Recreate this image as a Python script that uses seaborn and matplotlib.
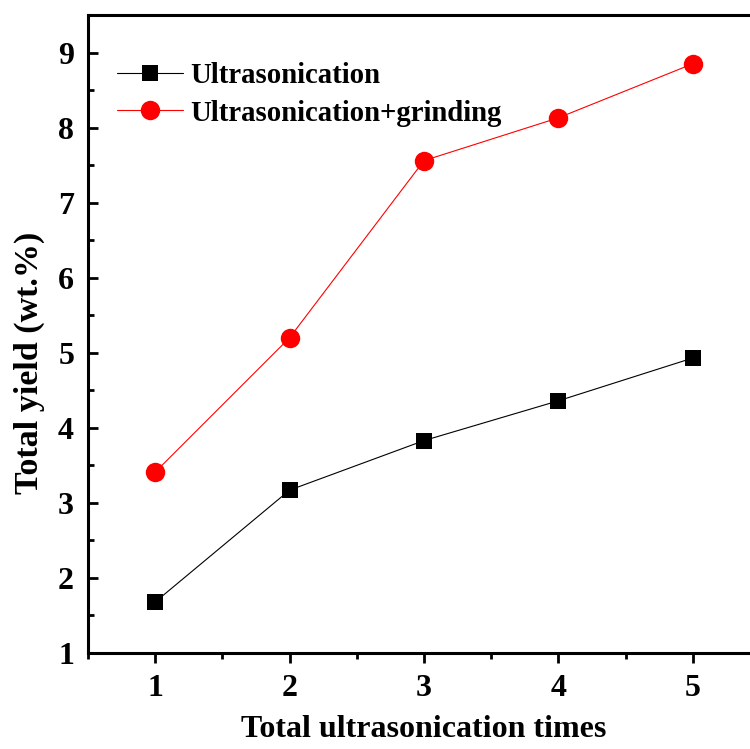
import matplotlib
matplotlib.use("Agg")
import matplotlib.pyplot as plt
import seaborn as sns
import pandas as pd
from matplotlib.ticker import MultipleLocator

times = [1, 2, 3, 4, 5]
ultrasonication = [1.68, 3.17, 3.83, 4.36, 4.93]
ultra_grinding = [3.41, 5.20, 7.56, 8.13, 8.85]
series_names = ["Ultrasonication", "Ultrasonication+grinding"]

sns.set_theme(style="white")
plt.rcParams['font.family'] = ['Liberation Serif', 'DejaVu Serif']
plt.rcParams['font.weight'] = 'bold'
plt.rcParams['text.color'] = 'black'
plt.rcParams['axes.labelcolor'] = 'black'
plt.rcParams['xtick.color'] = 'black'
plt.rcParams['ytick.color'] = 'black'

df1 = pd.DataFrame({"times": times, "yield": ultrasonication})
df2 = pd.DataFrame({"times": times, "yield": ultra_grinding})

fig = plt.figure(figsize=(7.5, 7.49), dpi=100)
ax = fig.add_axes([88/750, 96/749, 672/750, 638/749])

sns.lineplot(data=df1, x="times", y="yield", ax=ax, color="black", marker="s",
             markersize=11.5, markeredgewidth=0, linewidth=0.8, label=series_names[0])
sns.lineplot(data=df2, x="times", y="yield", ax=ax, color="#ff0000", marker="o",
             markersize=14, markeredgewidth=0, linewidth=0.8, label=series_names[1])

ax.set_xlim(0.5, 5.5)
ax.set_ylim(1, 9.5)
ax.xaxis.set_major_locator(MultipleLocator(1))
ax.xaxis.set_minor_locator(MultipleLocator(0.5))
ax.yaxis.set_major_locator(MultipleLocator(1))
ax.yaxis.set_minor_locator(MultipleLocator(0.5))

for s in ax.spines.values():
    s.set_linewidth(2.2)
    s.set_color("black")

ax.tick_params(axis='x', which='major', direction='out', length=7, width=2, pad=8,
               labelsize=23, bottom=True, colors='black')
ax.tick_params(axis='x', which='minor', direction='out', length=4, width=2, bottom=True,
               colors='black')
ax.tick_params(axis='y', which='major', direction='in', length=7, width=2, pad=10,
               labelsize=23, left=True, colors='black')
ax.tick_params(axis='y', which='minor', direction='in', length=4, width=2, left=True,
               colors='black')
for lbl in ax.get_xticklabels() + ax.get_yticklabels():
    lbl.set_fontweight('bold')
    lbl.set_color('black')

ax.set_xlabel("Total ultrasonication times", fontsize=23, fontweight='bold', color='black')
ax.set_ylabel("Total yield (wt.%)", fontsize=24.5, fontweight='bold', color='black')
ax.xaxis.set_label_coords(0.5, -0.097)
ax.yaxis.set_label_coords(-0.064, 0.4545)

leg = ax.legend(loc="upper left", bbox_to_anchor=(0.043, 0.926), frameon=False,
                handlelength=2.3, handletextpad=0.25, labelspacing=0.36,
                borderpad=0, borderaxespad=0, prop={'weight': 'bold', 'size': 20.7})
for t in leg.get_texts():
    t.set_color('black')

fig.savefig("out.png", dpi=100)
